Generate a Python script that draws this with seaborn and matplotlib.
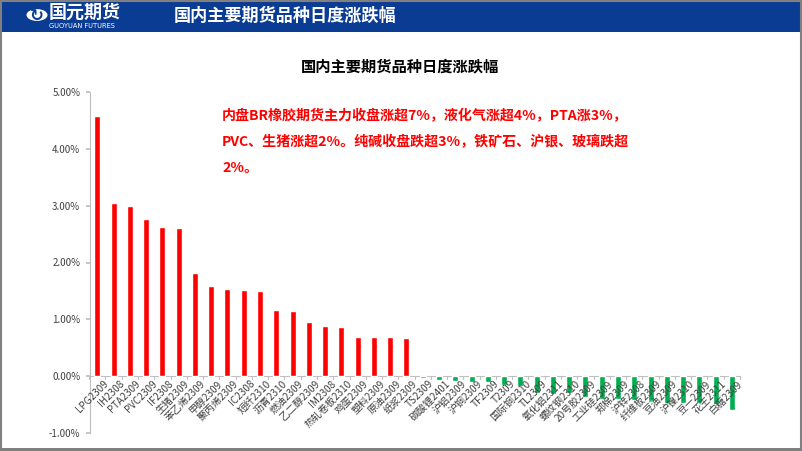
import matplotlib
matplotlib.use("Agg")
import matplotlib.pyplot as plt
import matplotlib.patches as mpatches
import matplotlib.ticker as mticker
import seaborn as sns
import pandas as pd
import numpy as np

categories = ["LPG2309", "IH2308", "PTA2309", "PVC2309", "IF2308", "生猪2309", "苯乙烯2309",
              "甲醇2309", "聚丙烯2309", "IC2308", "短纤2310", "沥青2310", "燃油2309", "乙二醇2309",
              "IM2308", "热轧卷板2310", "鸡蛋2309", "塑料2309", "原油2309", "纸浆2309", "TS2309",
              "碳酸锂2401", "沪铝2309", "沪铜2309", "TF2309", "T2309", "国际铜2310", "TL2309",
              "氧化铝2311", "螺纹钢2310", "20号胶2309", "工业硅2309", "郑棉2309", "沪锌2308",
              "纤维板2309", "豆油2309", "沪镍2310", "豆一2309", "花生2311", "白糖2309"]
changes = [4.58, 3.05, 3.00, 2.77, 2.63, 2.60, 1.81,
           1.58, 1.53, 1.52, 1.50, 1.16, 1.15, 0.95,
           0.88, 0.87, 0.69, 0.69, 0.69, 0.68, -0.03,
           -0.06, -0.08, -0.10, -0.11, -0.15, -0.17, -0.29,
           -0.31, -0.30, -0.36, -0.40, -0.41, -0.42,
           -0.43, -0.47, -0.48, -0.48, -0.49, -0.59]
y_ticks = [-1, 0, 1, 2, 3, 4, 5]

header_title = "国内主要期货品种日度涨跌幅"
chart_title = "国内主要期货品种日度涨跌幅"
note_lines = ["内盘BR橡胶期货主力收盘涨超7%，液化气涨超4%，PTA涨3%，",
              "PVC、生猪涨超2%。纯碱收盘跌超3%，铁矿石、沪银、玻璃跌超",
              "2%。"]

sns.set_theme(style="white")
plt.rcParams['font.family'] = ['Noto Sans CJK SC', 'DejaVu Sans']
plt.rcParams['axes.unicode_minus'] = False

W, H = 802, 451
fig = plt.figure(figsize=(W / 100, H / 100), dpi=100)
fig.patch.set_facecolor("white")

# header band
fig.patches.append(mpatches.Rectangle((0, 1 - 32 / H), 1, 32 / H, transform=fig.transFigure,
                                      facecolor="#0B3C94", edgecolor="none", zorder=0))
# logo
fig.patches.append(mpatches.Circle((37 / W, 1 - 15 / H), 10.5 / W, transform=fig.transFigure,
                                   facecolor="white", edgecolor="none", zorder=1))
fig.text(37 / W, 1 - 15.5 / H, "↻", color="#0B3C94", fontsize=12, ha="center", va="center",
         fontweight="bold", family=["DejaVu Sans"])
fig.text(49 / W, 1 - 12 / H, "国元期货", color="white", fontsize=13, fontweight="bold",
         ha="left", va="center")
fig.text(49 / W, 1 - 26.5 / H, "GUOYUAN FUTURES", color="white", fontsize=4.8,
         ha="left", va="center", family=["DejaVu Sans"])
fig.text(174 / W, 1 - 16 / H, header_title, color="white", fontsize=12.3, fontweight="bold",
         ha="left", va="center")

# frame
fig.patches.append(mpatches.Rectangle((0.5 / W, 0.5 / H), 1 - 1.5 / W, 1 - 1.5 / H,
                                      transform=fig.transFigure, facecolor="none",
                                      edgecolor="#808080", linewidth=1.5, zorder=5))
fig.patches.append(mpatches.Rectangle((0, 0), 1, 3 / H, transform=fig.transFigure,
                                      facecolor="#7F7F7F", edgecolor="none", zorder=5))

fig.text(400 / W, 1 - 66 / H, chart_title, color="black", fontsize=11, fontweight="bold",
         ha="center", va="center")

ax = fig.add_axes([90 / W, 1 - 433 / H, 650 / W, (433 - 92) / H])
df = pd.DataFrame({"cat": categories, "val": changes})
df["sign"] = np.where(df["val"] >= 0, "up", "down")
sns.barplot(data=df, x="cat", y="val", hue="sign", palette={"up": "#FF0000", "down": "#00B050"},
            dodge=False, width=0.37, legend=False, ax=ax, saturation=1)

ax.set_xlim(-0.45, 39.5)
ax.set_ylim(-1, 5)
ax.set_yticks(y_ticks)
ax.yaxis.set_major_formatter(mticker.FuncFormatter(lambda v, p: f"{v:.2f}%"))
ax.set_xlabel("")
ax.set_ylabel("")
for s in ["top", "right", "bottom"]:
    ax.spines[s].set_visible(False)
ax.spines["left"].set_color("#BFBFBF")
ax.spines["left"].set_linewidth(0.8)
ax.axhline(0, color="#BFBFBF", linewidth=0.8, zorder=0.5)

ax.tick_params(axis="y", which="major", left=True, length=3, color="#BFBFBF", labelsize=7,
               labelcolor="#404040", pad=4)
ax.set_xticks(range(len(categories)))
ax.set_xticklabels([])
ax.tick_params(axis="x", which="major", bottom=False)
# excel-like ticks at category boundaries on zero line
for b in np.arange(-0.5, len(categories), 1.0):
    ax.plot([b, b], [0, -0.05], color="#BFBFBF", linewidth=0.8, clip_on=False, zorder=0.5)

for i, c in enumerate(categories):
    ax.text(i + 0.35, 0 - 0.04, c, rotation=45, ha="right", va="top", rotation_mode="anchor",
            fontsize=7.2, color="#404040", transform=ax.transData)

for k, line in enumerate(note_lines):
    fig.text(222 / W, 1 - (116 + 26 * k) / H, line, color="#FF0000", fontsize=10.1,
             fontweight="bold", ha="left", va="center")

fig.savefig("out.png", dpi=100, facecolor="white")
